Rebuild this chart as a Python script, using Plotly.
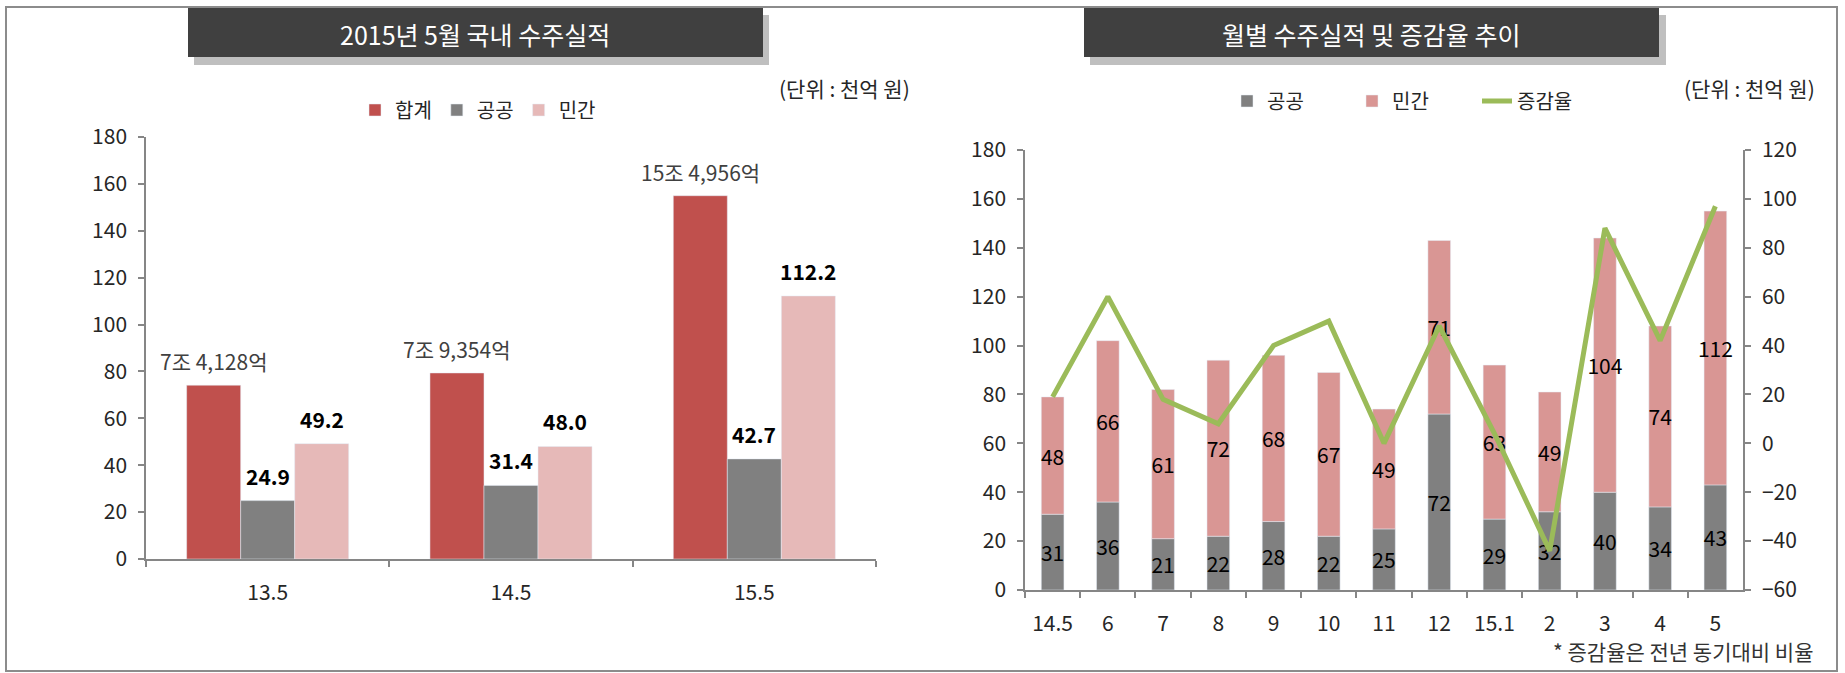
import plotly.graph_objects as go

W, H = 1845, 673

# ---------------- data: left chart (2015년 5월 국내 수주실적) ----------------
left_cats = ["13.5", "14.5", "15.5"]
total_vals = [74.128, 79.354, 154.956]
total_labels = ["7조 4,128억", "7조 9,354억", "15조 4,956억"]
public_vals = [24.9, 31.4, 42.7]
private_vals = [49.2, 48.0, 112.2]

# ---------------- data: right chart (월별 수주실적 및 증감율 추이) ----------------
months = ["14.5", "6", "7", "8", "9", "10", "11", "12", "15.1", "2", "3", "4", "5"]
month_public = [31, 36, 21, 22, 28, 22, 25, 72, 29, 32, 40, 34, 43]
month_private = [48, 66, 61, 72, 68, 67, 49, 71, 63, 49, 104, 74, 112]
growth_rate = [19, 60, 18, 8, 40, 50, 0, 48, 4, -44, 88, 42, 97]

FONT = "Noto Sans CJK KR, Noto Sans, sans-serif"
AX_COLOR = "#868686"
TXT = "#262626"
FS = 21


def px(x):
    return x / W


def py(y):
    return 1 - y / H


fig = go.Figure()

# ---- left chart bars ----
BARGAP = 0.334
bw = (1 - BARGAP) / 3
fig.add_trace(go.Bar(x=left_cats, y=total_vals, name="합계", marker_color="#C0504D",
                     xaxis="x", yaxis="y", legend="legend"))
fig.add_trace(go.Bar(x=left_cats, y=public_vals, name="공공", marker_color="#808080",
                     xaxis="x", yaxis="y", legend="legend"))
fig.add_trace(go.Bar(x=left_cats, y=private_vals, name="민간", marker_color="#E6B9B8",
                     xaxis="x", yaxis="y", legend="legend"))

# ---- right chart stacked bars ----
RW = 0.41
fig.add_trace(go.Bar(x=months, y=month_public, name="공공", marker_color="#808080",
                     width=RW, offset=-RW / 2,
                     text=[str(v) for v in month_public], textposition="inside",
                     insidetextanchor="middle", constraintext="none", textangle=0,
                     textfont=dict(color="black", size=FS, family=FONT),
                     xaxis="x2", yaxis="y2", legend="legend2"))
fig.add_trace(go.Bar(x=months, y=month_private, base=month_public, name="민간",
                     marker_color="#D99694", width=RW, offset=-RW / 2,
                     text=[str(v) for v in month_private], textposition="inside",
                     insidetextanchor="middle", constraintext="none", textangle=0,
                     textfont=dict(color="black", size=FS, family=FONT),
                     xaxis="x2", yaxis="y2", legend="legend2"))
fig.add_trace(go.Scatter(x=months, y=growth_rate, name="증감율", mode="lines",
                         line=dict(color="#9BBB59", width=5),
                         xaxis="x2", yaxis="y3", legend="legend2"))

annotations = []
# value labels for left chart
for i in range(len(left_cats)):
    annotations.append(dict(x=i - bw, y=total_vals[i], xref="x", yref="y",
                            xanchor="center", yanchor="middle",
                            text=total_labels[i], showarrow=False, yshift=24,
                            font=dict(size=FS, color="#404040", family=FONT)))
    annotations.append(dict(x=i, y=public_vals[i], xref="x", yref="y",
                            xanchor="center", yanchor="middle",
                            text="<b>%.1f</b>" % public_vals[i], showarrow=False, yshift=25,
                            font=dict(size=FS, color="black", family=FONT)))
    annotations.append(dict(x=i + bw, y=private_vals[i], xref="x", yref="y",
                            xanchor="center", yanchor="middle",
                            text="<b>%.1f</b>" % private_vals[i], showarrow=False, yshift=25,
                            font=dict(size=FS, color="black", family=FONT)))

# titles
annotations.append(dict(x=px(475), y=py(34), xref="paper", yref="paper",
                        xanchor="center", yanchor="middle",
                        text="2015년 5월 국내 수주실적", showarrow=False,
                        font=dict(size=25, color="white", family=FONT)))
annotations.append(dict(x=px(1371), y=py(34), xref="paper", yref="paper",
                        xanchor="center", yanchor="middle",
                        text="월별 수주실적 및 증감율 추이", showarrow=False,
                        font=dict(size=25, color="white", family=FONT)))
# units
annotations.append(dict(x=px(912), y=py(88), xref="paper", yref="paper", xanchor="right",
                        yanchor="middle", text="(단위 : 천억 원)", showarrow=False,
                        font=dict(size=FS, color=TXT, family=FONT)))
annotations.append(dict(x=px(1817), y=py(88), xref="paper", yref="paper", xanchor="right",
                        yanchor="middle", text="(단위 : 천억 원)", showarrow=False,
                        font=dict(size=FS, color=TXT, family=FONT)))
# footnote
annotations.append(dict(x=px(1815), y=py(651), xref="paper", yref="paper", xanchor="right",
                        yanchor="middle", text="* 증감율은 전년 동기대비 비율", showarrow=False,
                        font=dict(size=FS, color="#333333", family=FONT)))

shapes = [
    # outer border
    dict(type="rect", xref="paper", yref="paper", x0=px(6), x1=px(1837), y0=py(671), y1=py(7),
         line=dict(color="#8C8C8C", width=2), fillcolor="rgba(0,0,0,0)", layer="below"),
    # title shadows
    dict(type="rect", xref="paper", yref="paper", x0=px(194), x1=px(769), y0=py(65), y1=py(15),
         line=dict(width=0), fillcolor="#BFBFBF", layer="below"),
    dict(type="rect", xref="paper", yref="paper", x0=px(1090), x1=px(1666), y0=py(65), y1=py(15),
         line=dict(width=0), fillcolor="#BFBFBF", layer="below"),
    # title boxes
    dict(type="rect", xref="paper", yref="paper", x0=px(188), x1=px(763), y0=py(57), y1=py(8),
         line=dict(width=0), fillcolor="#404040", layer="below"),
    dict(type="rect", xref="paper", yref="paper", x0=px(1084), x1=px(1659), y0=py(57), y1=py(8),
         line=dict(width=0), fillcolor="#404040", layer="below"),
]

axis_common = dict(showgrid=False, zeroline=False, showline=True, linecolor=AX_COLOR,
                   linewidth=1.5, ticks="outside", ticklen=6, tickcolor=AX_COLOR,
                   tickwidth=1.5, automargin=False,
                   tickfont=dict(size=FS, color=TXT, family=FONT))

fig.update_layout(
    width=W, height=H,
    margin=dict(l=0, r=0, t=0, b=0, autoexpand=False),
    paper_bgcolor="white", plot_bgcolor="white",
    font=dict(family=FONT, color=TXT),
    barmode="group", bargap=BARGAP, bargroupgap=0,
    xaxis=dict(domain=[px(146), px(876)], anchor="y", type="category",
               tickson="boundaries", ticklabelstandoff=14, **axis_common),
    yaxis=dict(domain=[py(559), py(137)], anchor="x", range=[0, 180], dtick=20,
               ticklabelstandoff=7, **axis_common),
    xaxis2=dict(domain=[px(1025), px(1743)], anchor="y2", type="category",
                tickson="boundaries", ticklabelstandoff=14, **axis_common),
    yaxis2=dict(domain=[py(590), py(150)], anchor="x2", range=[0, 180], dtick=20,
                ticklabelstandoff=7, **axis_common),
    yaxis3=dict(overlaying="y2", anchor="x2", side="right", range=[-60, 120], dtick=20,
                ticklabelstandoff=7, **axis_common),
    legend=dict(orientation="h", x=px(478), xanchor="center", y=py(110), yanchor="middle",
                font=dict(size=20, color=TXT, family=FONT), bgcolor="rgba(0,0,0,0)"),
    legend2=dict(orientation="h", x=px(1227), xanchor="left", y=py(101), yanchor="middle",
                 entrywidth=80, entrywidthmode="pixels",
                 font=dict(size=20, color=TXT, family=FONT), bgcolor="rgba(0,0,0,0)"),
    annotations=annotations,
    shapes=shapes,
    showlegend=True,
)

fig.write_html("out.html", config={"displayModeBar": False},
               post_script="document.body.style.margin='0';")
